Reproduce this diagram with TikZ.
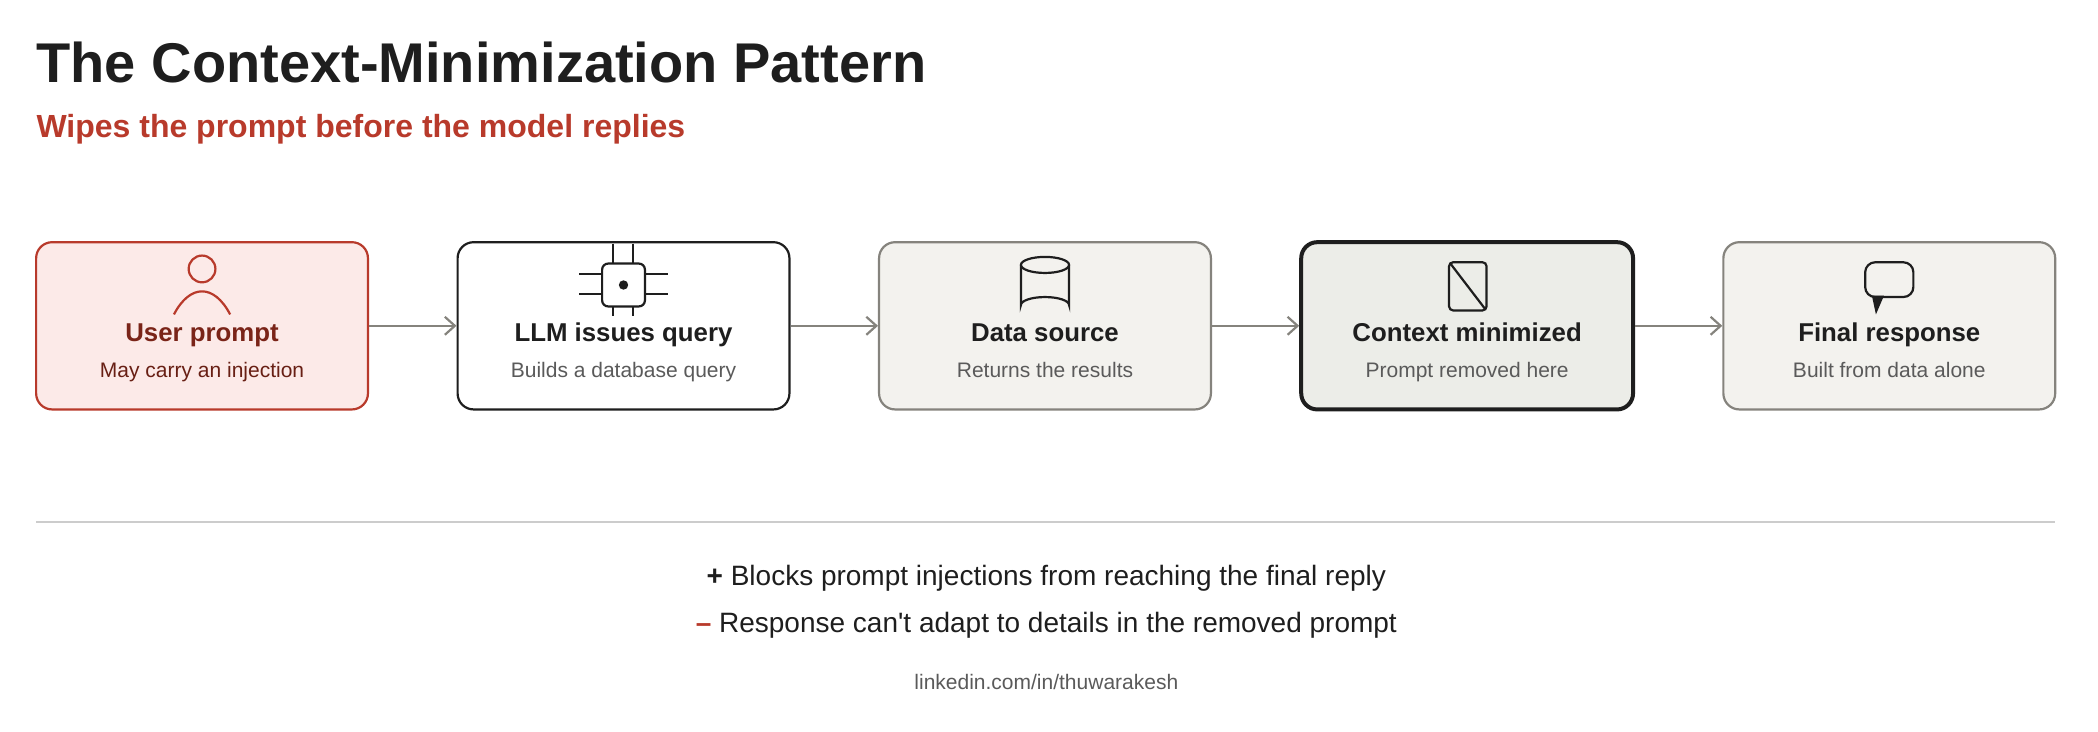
\documentclass[tikz,border=0pt]{standalone}
\usepackage{fontspec}
\setmainfont{Liberation Sans}
\usetikzlibrary{arrows.meta}
\definecolor{red1}{HTML}{B83A2B}
\definecolor{darkred}{HTML}{7A2418}
\definecolor{pink}{HTML}{FCEAE8}
\definecolor{gfill}{HTML}{F3F2EE}
\definecolor{cfill}{HTML}{ECEDE8}
\definecolor{ink}{HTML}{1E1E1E}
\definecolor{sub}{HTML}{5A5A5A}
\definecolor{edge}{HTML}{85837D}
\begin{document}
\begin{tikzpicture}[x=0.669pt,y=-0.669pt,
 box/.style={draw, rounded corners=8pt, minimum width=248*0.669pt, minimum height=125*0.669pt, line width=1.1pt},
 ttl/.style={font=\bfseries\fontsize{12.9}{15}\selectfont, text=ink},
 st/.style={font=\fontsize{10.5}{12}\selectfont, text=sub},
 arr/.style={draw=edge, line width=1.1pt, -{Straight Barb[length=5pt,width=9pt]}},
 ic/.style={draw=ink, line width=1.1pt}]
\useasboundingbox (0,0) rectangle (1568,547);
\node[anchor=base west, font=\bfseries\fontsize{28}{32}\selectfont, text=ink, inner sep=0] (title) at (27,62) {The Context-Minimization Pattern};
\node[anchor=base west, font=\bfseries\fontsize{16}{19}\selectfont, text=red1, inner sep=0] (subt) at (27,103) {Wipes the prompt before the model replies};

\node[box, draw=red1, fill=pink] (b1) at (151,243.5) {};
\node[box, draw=ink, fill=white] (b2) at (466,243.5) {};
\node[box, draw=edge, fill=gfill] (b3) at (781,243.5) {};
\node[box, draw=ink, fill=cfill, line width=2pt] (b4) at (1096.5,243.5) {};
\node[box, draw=edge, fill=gfill] (b5) at (1412,243.5) {};

\foreach \n/\x/\t/\s in {2/466/LLM issues query/Builds a database query, 3/781/Data source/Returns the results, 4/1096.5/Context minimized/Prompt removed here, 5/1412/Final response/Built from data alone}{
 \node[ttl, anchor=base] (t\n) at (\x,255) {\t};
 \node[st, anchor=base] (s\n) at (\x,282) {\s};
}
\node[ttl, anchor=base, text=darkred] (t1) at (151,255) {User prompt};
\node[st, anchor=base, text=darkred!85!black] (s1) at (151,282) {May carry an injection};

\draw[arr] (b1) -- (b2);
\draw[arr] (b2) -- (b3);
\draw[arr] (b3) -- (b4);
\draw[arr] (b4) -- (b5);

% person
\draw[draw=red1, line width=1.1pt] (151,201) circle (10);
\draw[draw=red1, line width=1.1pt] (130,235) .. controls (142,212) and (160,212) .. (172,235);
% chip
\draw[ic] (458,182) -- (458,197) (473,182) -- (473,197) (458,229) -- (458,236) (473,229) -- (473,236);
\draw[ic] (433,205) -- (450,205) (433,220) -- (450,220) (482,205) -- (499,205) (482,220) -- (499,220);
\draw[ic, rounded corners=3pt] (450,197) rectangle (482,229);
\fill[ink] (466,213) circle (3.5);
% cylinder
\draw[ic] (781,198) ellipse (18 and 6);
\draw[ic] (763,198) -- (763,228) arc (180:360:18 and 6) -- (799,198);
% context
\draw[ic, rounded corners=2pt] (1083,196) rectangle (1111,232);
\draw[ic] (1084,197) -- (1110,231);
% bubble
\draw[ic, rounded corners=5pt] (1394,196) rectangle (1430,222);
\fill[ink] (1399,221) -- (1408,221) -- (1402,235) -- cycle;

\draw[draw=gray!40, line width=0.8pt] (27,390) coordinate (l1) -- (1536,390) coordinate (l2);
\node[font=\fontsize{14}{17}\selectfont, text=ink] (p1) at (782,432) {\textbf{+} Blocks prompt injections from reaching the final reply};
\node[font=\fontsize{14}{17}\selectfont, text=ink] (p2) at (782,467) {\textcolor{red1}{\textbf{–}} Response can\textquotesingle t adapt to details in the removed prompt};
\node[font=\fontsize{10.5}{12}\selectfont, text=sub] (ln) at (782,510) {linkedin.com/in/thuwarakesh};
\end{tikzpicture}
\end{document}
